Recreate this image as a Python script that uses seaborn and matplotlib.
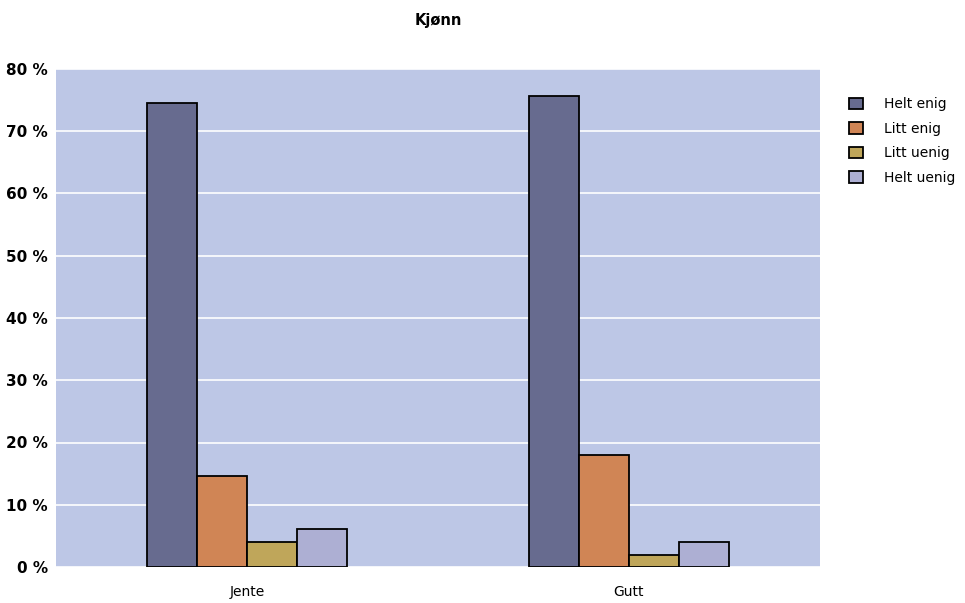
import matplotlib
matplotlib.use("Agg")
import matplotlib.pyplot as plt
import seaborn as sns
import pandas as pd

# data
groups = ["Jente", "Gutt"]
answers = ["Helt enig", "Litt enig", "Litt uenig", "Helt uenig"]
jente = [74.6, 14.6, 4.0, 6.1]
gutt = [75.6, 18.0, 1.9, 4.0]
colors = ["#676b8f", "#d08555", "#bfa65a", "#adafd3"]

rows = []
for g, vals in zip(groups, [jente, gutt]):
    for a, v in zip(answers, vals):
        rows.append({"Kjønn": g, "Svar": a, "Prosent": v})
df = pd.DataFrame(rows)

sns.set_style("white")
plt.rcParams["font.family"] = ["DejaVu Sans"]
plt.rcParams["text.color"] = "black"
plt.rcParams["xtick.color"] = "black"
plt.rcParams["ytick.color"] = "black"

fig = plt.figure(figsize=(9.65, 6.03), dpi=100)
ax = fig.add_axes([56 / 965, 36 / 603, 764 / 965, 498 / 603])
ax.set_facecolor("#bdc7e6")

sns.barplot(data=df, x="Kjønn", y="Prosent", hue="Svar", hue_order=answers,
            palette=colors, width=0.526, edgecolor="black", linewidth=1.3,
            saturation=1, ax=ax, zorder=3)

ax.set_ylim(0, 80)
ax.set_yticks(range(0, 81, 10))
ax.set_yticklabels([f"{t} %" for t in range(0, 81, 10)], fontweight="bold", fontsize=11)
ax.yaxis.grid(True, color="white", linewidth=1.2, zorder=0)
ax.set_axisbelow(True)
ax.tick_params(axis="both", length=0)
ax.tick_params(axis="y", pad=6)
ax.tick_params(axis="x", labelsize=10, pad=13)
for s in ax.spines.values():
    s.set_visible(False)
ax.set_xlabel("")
ax.set_ylabel("")
ax.set_title("Kjønn", fontweight="bold", fontsize=10.5, pad=32)

ax.legend(title=None, frameon=False, loc="upper left", bbox_to_anchor=(1.022, 0.968),
          fontsize=10, handlelength=1.0, handleheight=0.9, labelspacing=0.75,
          handletextpad=1.5)

fig.savefig("out.png", dpi=100)
